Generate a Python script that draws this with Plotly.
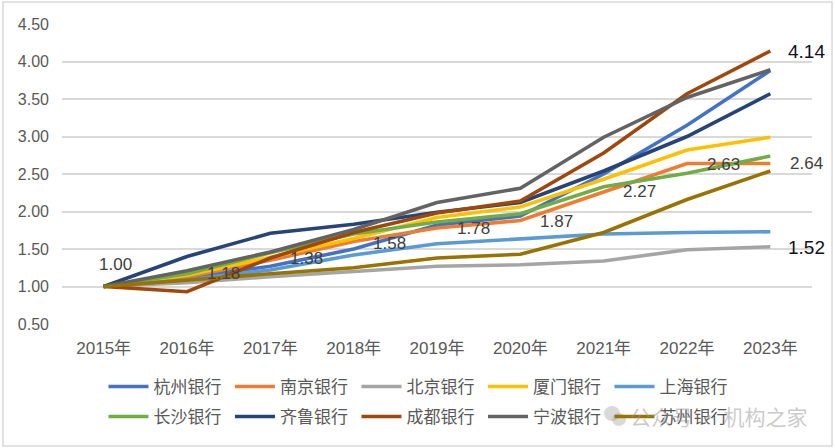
import plotly.graph_objects as go

years = ["2015年", "2016年", "2017年", "2018年", "2019年", "2020年", "2021年", "2022年", "2023年"]

hangzhou = [1.00, 1.12, 1.27, 1.50, 1.82, 1.94, 2.50, 3.15, 3.88]
nanjing = [1.00, 1.13, 1.35, 1.60, 1.78, 1.88, 2.26, 2.64, 2.64]
beijing = [1.00, 1.05, 1.13, 1.20, 1.27, 1.29, 1.34, 1.49, 1.53]
xiamen = [1.00, 1.15, 1.39, 1.64, 1.92, 2.06, 2.43, 2.82, 2.99]
shanghai = [1.00, 1.09, 1.22, 1.42, 1.57, 1.63, 1.70, 1.72, 1.73]
changsha = [1.00, 1.17, 1.45, 1.70, 1.86, 1.97, 2.33, 2.51, 2.74]
qilu = [1.00, 1.40, 1.71, 1.83, 1.99, 2.12, 2.54, 3.00, 3.57]
chengdu = [1.00, 0.93, 1.38, 1.72, 1.98, 2.14, 2.78, 3.57, 4.14]
ningbo = [1.00, 1.21, 1.46, 1.76, 2.12, 2.31, 2.99, 3.52, 3.89]
suzhou = [1.00, 1.09, 1.17, 1.25, 1.38, 1.43, 1.72, 2.16, 2.54]

series_names = ["杭州银行", "南京银行", "北京银行", "厦门银行", "上海银行",
                "长沙银行", "齐鲁银行", "成都银行", "宁波银行", "苏州银行"]
series_values = [hangzhou, nanjing, beijing, xiamen, shanghai,
                 changsha, qilu, chengdu, ningbo, suzhou]
colors = ["#4472C4", "#ED7D31", "#A5A5A5", "#FFC000", "#5B9BD5",
          "#70AD47", "#264478", "#9E480E", "#636363", "#997300"]

# data labels shown on chart
label_years = ["2015年", "2016年", "2017年", "2018年", "2019年", "2020年", "2021年", "2022年", "2023年"]
label_values = [1.00, 1.18, 1.38, 1.58, 1.78, 1.87, 2.27, 2.63, 2.64]
big_label_years = ["2023年", "2023年"]
big_label_values = [4.14, 1.52]

FONT = "Liberation Sans, Arial, Noto Sans CJK SC, sans-serif"

fig = go.Figure()
for i, (name, vals, c) in enumerate(zip(series_names, series_values, colors)):
    fig.add_trace(go.Scatter(x=years, y=vals, name=name, mode="lines",
                             line=dict(color=c, width=3.6),
                             legend="legend" if i < 5 else "legend2"))

annotations = []
for i, (yr, v) in enumerate(zip(label_years, label_values)):
    if i == 0:
        annotations.append(dict(x=yr, y=v, text=f"{v:.2f}", showarrow=False,
                                xshift=12, yshift=22,
                                font=dict(size=17, color="#404040", family=FONT)))
    else:
        annotations.append(dict(x=yr, y=v, text=f"{v:.2f}", showarrow=False,
                                xshift=36,
                                font=dict(size=17, color="#404040", family=FONT)))
for yr, v in zip(big_label_years, big_label_values):
    annotations.append(dict(x=yr, y=v, text=f"{v:.2f}", showarrow=False,
                            xshift=36,
                            font=dict(size=19, color="#111122", family=FONT)))

# watermark
annotations.append(dict(xref="paper", yref="paper", x=0.755, y=-0.305,
                        xanchor="left", yanchor="middle",
                        text="公众号 · 机构之家", showarrow=False,
                        font=dict(size=21, color="rgba(150,150,150,0.5)",
                                  family="Noto Sans CJK SC")))

legend_common = dict(orientation="h", xanchor="left", yanchor="top",
                     font=dict(size=17, color="#595959", family=FONT),
                     entrywidth=71.5, entrywidthmode="pixels",
                     itemwidth=40, traceorder="normal", bgcolor="rgba(0,0,0,0)")

shapes = [
    dict(type="rect", xref="paper", yref="paper",
         x0=-0.0787, x1=1.0267, y0=-0.4067, y1=1.0733,
         line=dict(color="#D9D9D9", width=1.5), layer="below"),
    # watermark icon
    dict(type="circle", xref="paper", yref="paper",
         x0=0.7227, x1=0.7440, y0=-0.3233, y1=-0.2733,
         fillcolor="rgba(170,170,170,0.45)", line=dict(width=0)),
    dict(type="circle", xref="paper", yref="paper",
         x0=0.7333, x1=0.7520, y0=-0.3400, y1=-0.2967,
         fillcolor="rgba(170,170,170,0.45)", line=dict(width=0)),
]

fig.update_layout(
    width=835, height=448,
    margin=dict(l=62, r=23, t=24, b=124),
    paper_bgcolor="white", plot_bgcolor="white",
    font=dict(family=FONT, color="#595959"),
    showlegend=True,
    legend=dict(x=0.0553, y=-0.15, **legend_common),
    legend2=dict(x=0.0553, y=-0.25, **legend_common),
    xaxis=dict(type="category", range=[-0.5, 8.5], showgrid=False, zeroline=False,
               showline=False, ticks="", tickfont=dict(size=17, color="#595959"),
               ticklabelstandoff=12),
    yaxis=dict(range=[0.5, 4.5], tickvals=[0.5, 1.0, 1.5, 2.0, 2.5, 3.0, 3.5, 4.0, 4.5],
               tickformat=".2f", showgrid=True, gridcolor="#D9D9D9", gridwidth=1.5,
               zeroline=False, showline=False, ticks="",
               tickfont=dict(size=16, color="#595959"), ticklabelstandoff=12),
    annotations=annotations,
    shapes=shapes,
)

fig.write_html("out.html", config={"displayModeBar": False},
               post_script="document.body.style.margin='0';document.body.style.padding='0';")
